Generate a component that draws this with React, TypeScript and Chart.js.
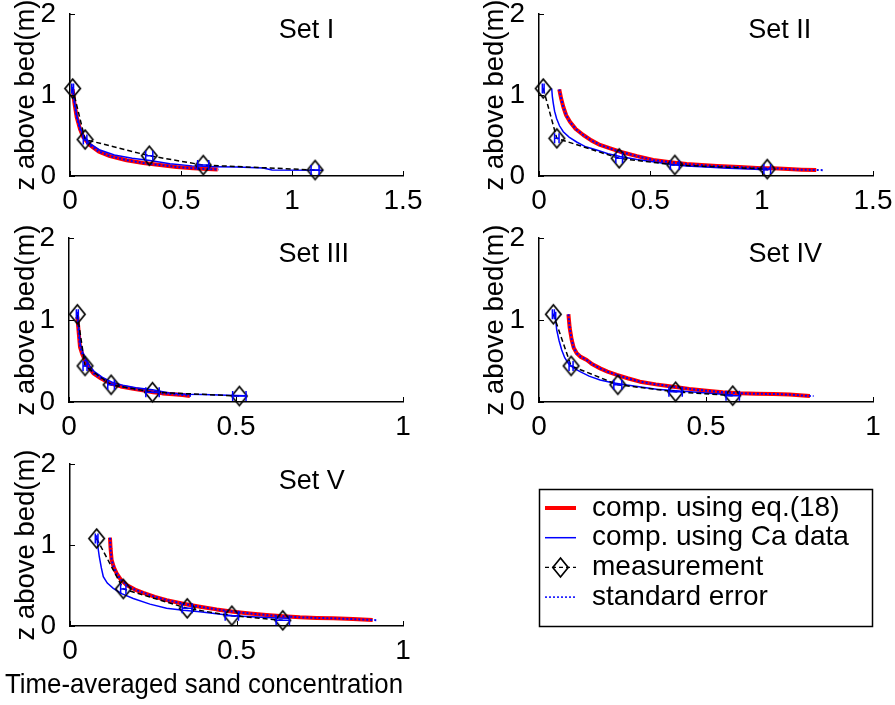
import React, { useEffect, useRef } from 'react';
import { Chart, registerables } from 'chart.js';

Chart.register(...registerables);

const FONT = '"Liberation Sans", Arial, Helvetica, sans-serif';

// ---------- tick values / labels ----------
const X_TICKS_WIDE = [0, 0.5, 1, 1.5];
const X_TICK_LABELS_WIDE = ['0', '0.5', '1', '1.5'];
const X_TICKS_NARROW = [0, 0.5, 1];
const X_TICK_LABELS_NARROW = ['0', '0.5', '1'];
const Y_TICKS = [0, 1, 2];
const Y_TICK_LABELS = ['0', '1', '2'];

const SET_NAMES = ['Set I', 'Set II', 'Set III', 'Set IV', 'Set V'];
const LEGEND_LABELS = ['comp. using eq.(18)', 'comp. using Ca data', 'measurement', 'standard error'];
const Y_TITLE = 'z above bed(m)';
const X_TITLE = 'Time-averaged sand concentration';

// ---------- Set I ----------
const S1_EQ_X = [0.012, 0.02, 0.03, 0.045, 0.06, 0.09, 0.13, 0.18, 0.255, 0.33, 0.405, 0.48, 0.555, 0.62, 0.665];
const S1_EQ_Y = [1.07, 0.9, 0.73, 0.58, 0.48, 0.38, 0.3, 0.245, 0.195, 0.16, 0.135, 0.11, 0.095, 0.085, 0.08];
const S1_SE_X = [0.012, 0.02, 0.03, 0.045, 0.06, 0.09, 0.13, 0.18, 0.255, 0.33, 0.405, 0.48, 0.555, 0.62, 0.67];
const S1_SE_Y = [1.07, 0.9, 0.73, 0.58, 0.48, 0.38, 0.3, 0.245, 0.195, 0.16, 0.135, 0.11, 0.095, 0.085, 0.08];
const S1_CA_X = [0.012, 0.02, 0.03, 0.045, 0.06, 0.09, 0.135, 0.2, 0.28, 0.36, 0.45, 0.55, 0.65, 0.75, 0.87, 0.91, 1.14];
const S1_CA_Y = [1.1, 0.92, 0.75, 0.6, 0.5, 0.4, 0.32, 0.26, 0.22, 0.19, 0.15, 0.125, 0.115, 0.11, 0.1, 0.075, 0.07];
const S1_MEAS_X = [0.012, 0.068, 0.357, 0.6, 1.104];
const S1_MEAS_Y = [1.08, 0.45, 0.25, 0.135, 0.074];
const S1_MEAS_ERR = [0.004, 0.008, 0.016, 0.025, 0.018];

// ---------- Set II ----------
const S2_EQ_X = [0.091, 0.1, 0.109, 0.122, 0.139, 0.165, 0.199, 0.235, 0.274, 0.32, 0.364, 0.44, 0.513, 0.59, 0.663, 0.73, 0.8, 0.9, 1.0, 1.05, 1.12, 1.18, 1.245];
const S2_EQ_Y = [1.07, 0.95, 0.855, 0.75, 0.67, 0.58, 0.506, 0.44, 0.383, 0.34, 0.3, 0.245, 0.198, 0.17, 0.148, 0.135, 0.123, 0.11, 0.097, 0.095, 0.085, 0.078, 0.074];
const S2_SE_X = [0.091, 0.1, 0.109, 0.122, 0.139, 0.165, 0.199, 0.235, 0.274, 0.32, 0.364, 0.44, 0.513, 0.59, 0.663, 0.73, 0.8, 0.9, 1.0, 1.05, 1.12, 1.18, 1.245, 1.275];
const S2_SE_Y = [1.07, 0.95, 0.855, 0.75, 0.67, 0.58, 0.506, 0.44, 0.383, 0.34, 0.3, 0.245, 0.198, 0.17, 0.148, 0.135, 0.123, 0.11, 0.097, 0.095, 0.085, 0.078, 0.074, 0.072];
const S2_CA_X = [0.057, 0.06, 0.064, 0.07, 0.079, 0.092, 0.109, 0.135, 0.169, 0.21, 0.259, 0.31, 0.364, 0.44, 0.513, 0.59, 0.663, 0.75, 0.85, 0.95, 1.03];
const S2_CA_Y = [1.08, 0.98, 0.9, 0.8, 0.71, 0.62, 0.547, 0.48, 0.42, 0.36, 0.32, 0.275, 0.24, 0.205, 0.177, 0.145, 0.123, 0.11, 0.097, 0.085, 0.074];
const S2_MEAS_X = [0.019, 0.08, 0.36, 0.61, 1.025];
const S2_MEAS_Y = [1.08, 0.465, 0.218, 0.136, 0.085];
const S2_MEAS_ERR = [0.004, 0.01, 0.015, 0.02, 0.015];

// ---------- Set III ----------
const S3_EQ_X = [0.025, 0.029, 0.033, 0.04, 0.048, 0.06, 0.073, 0.095, 0.123, 0.155, 0.193, 0.225, 0.252, 0.28, 0.312, 0.34, 0.362];
const S3_EQ_Y = [1.04, 0.85, 0.67, 0.58, 0.51, 0.42, 0.35, 0.29, 0.228, 0.19, 0.16, 0.14, 0.12, 0.105, 0.095, 0.085, 0.073];
const S3_SE_X = [0.025, 0.029, 0.033, 0.04, 0.048, 0.06, 0.073, 0.095, 0.123, 0.155, 0.193, 0.225, 0.252, 0.28, 0.312, 0.34, 0.365];
const S3_SE_Y = [1.04, 0.85, 0.67, 0.58, 0.51, 0.42, 0.35, 0.29, 0.228, 0.19, 0.16, 0.14, 0.12, 0.105, 0.095, 0.085, 0.073];
const S3_CA_X = [0.025, 0.03, 0.034, 0.042, 0.05, 0.062, 0.076, 0.1, 0.13, 0.165, 0.2, 0.25, 0.3, 0.35, 0.4, 0.45, 0.527];
const S3_CA_Y = [1.1, 0.88, 0.7, 0.6, 0.53, 0.44, 0.37, 0.3, 0.24, 0.2, 0.175, 0.15, 0.11, 0.095, 0.09, 0.085, 0.075];
const S3_MEAS_X = [0.025, 0.048, 0.126, 0.25, 0.51];
const S3_MEAS_Y = [1.07, 0.44, 0.21, 0.12, 0.073];
const S3_MEAS_ERR = [0.003, 0.006, 0.01, 0.02, 0.02];

// ---------- Set IV ----------
const S4_EQ_X = [0.088, 0.092, 0.098, 0.104, 0.113, 0.125, 0.143, 0.16, 0.183, 0.205, 0.233, 0.265, 0.302, 0.35, 0.402, 0.45, 0.502, 0.55, 0.602, 0.65, 0.702, 0.75, 0.811];
const S4_EQ_Y = [1.07, 0.9, 0.756, 0.66, 0.594, 0.55, 0.512, 0.46, 0.41, 0.37, 0.33, 0.29, 0.248, 0.215, 0.187, 0.16, 0.138, 0.12, 0.106, 0.1, 0.098, 0.09, 0.073];
const S4_SE_X = [0.088, 0.092, 0.098, 0.104, 0.113, 0.125, 0.143, 0.16, 0.183, 0.205, 0.233, 0.265, 0.302, 0.35, 0.402, 0.45, 0.502, 0.55, 0.602, 0.65, 0.702, 0.75, 0.811, 0.822];
const S4_SE_Y = [1.07, 0.9, 0.756, 0.66, 0.594, 0.55, 0.512, 0.46, 0.41, 0.37, 0.33, 0.29, 0.248, 0.215, 0.187, 0.16, 0.138, 0.12, 0.106, 0.1, 0.098, 0.09, 0.073, 0.072];
const S4_CA_X = [0.048, 0.05, 0.053, 0.06, 0.068, 0.077, 0.088, 0.103, 0.123, 0.15, 0.183, 0.22, 0.263, 0.31, 0.352, 0.4, 0.452, 0.52, 0.582];
const S4_CA_Y = [1.1, 1.0, 0.88, 0.75, 0.634, 0.54, 0.47, 0.415, 0.37, 0.315, 0.268, 0.235, 0.207, 0.18, 0.155, 0.14, 0.126, 0.105, 0.085];
const S4_MEAS_X = [0.043, 0.096, 0.236, 0.409, 0.58];
const S4_MEAS_Y = [1.07, 0.44, 0.21, 0.125, 0.077];
const S4_MEAS_ERR = [0.003, 0.006, 0.012, 0.02, 0.02];

// ---------- Set V ----------
const S5_EQ_X = [0.12, 0.122, 0.125, 0.132, 0.14, 0.153, 0.17, 0.195, 0.22, 0.255, 0.29, 0.34, 0.39, 0.44, 0.49, 0.54, 0.59, 0.64, 0.69, 0.74, 0.79, 0.85, 0.909];
const S5_EQ_Y = [1.09, 0.95, 0.815, 0.72, 0.65, 0.57, 0.506, 0.45, 0.41, 0.36, 0.32, 0.275, 0.238, 0.205, 0.177, 0.155, 0.136, 0.12, 0.107, 0.1, 0.095, 0.085, 0.074];
const S5_SE_X = [0.12, 0.122, 0.125, 0.132, 0.14, 0.153, 0.17, 0.195, 0.22, 0.255, 0.29, 0.34, 0.39, 0.44, 0.49, 0.54, 0.59, 0.64, 0.69, 0.74, 0.79, 0.85, 0.909, 0.92];
const S5_SE_Y = [1.09, 0.95, 0.815, 0.72, 0.65, 0.57, 0.506, 0.45, 0.41, 0.36, 0.32, 0.275, 0.238, 0.205, 0.177, 0.155, 0.136, 0.12, 0.107, 0.1, 0.095, 0.085, 0.074, 0.072];
const S5_CA_X = [0.08, 0.083, 0.088, 0.094, 0.1, 0.112, 0.13, 0.155, 0.19, 0.24, 0.29, 0.34, 0.39, 0.44, 0.49, 0.56, 0.62, 0.66];
const S5_CA_Y = [1.12, 1.0, 0.855, 0.72, 0.61, 0.53, 0.465, 0.4, 0.34, 0.27, 0.22, 0.195, 0.177, 0.15, 0.127, 0.11, 0.1, 0.095];
const S5_MEAS_X = [0.08, 0.16, 0.352, 0.486, 0.639];
const S5_MEAS_Y = [1.08, 0.457, 0.218, 0.127, 0.07];
const S5_MEAS_ERR = [0.004, 0.008, 0.015, 0.02, 0.02];

// ---------- styles ----------
const RED = '#ff0000';
const BLUE = '#0000ff';
const BLACK = '#000000';

let diamondCache: HTMLCanvasElement | null = null;
function diamondImage(): HTMLCanvasElement {
  if (diamondCache) return diamondCache;
  const c = document.createElement('canvas');
  c.width = 19;
  c.height = 23;
  const g = c.getContext('2d')!;
  g.strokeStyle = BLACK;
  g.lineWidth = 1.7;
  g.lineJoin = 'miter';
  g.beginPath();
  g.moveTo(9.5, 2);
  g.lineTo(17.2, 11.5);
  g.lineTo(9.5, 21);
  g.lineTo(1.8, 11.5);
  g.closePath();
  g.stroke();
  diamondCache = c;
  return c;
}

function pts(xs: number[], ys: number[]) {
  return xs.map((x, i) => ({ x, y: ys[i] }));
}

type PanelDef = {
  name: string;
  eqX: number[]; eqY: number[];
  seX: number[]; seY: number[];
  caX: number[]; caY: number[];
  mX: number[]; mY: number[]; mErr: number[];
  xTicks: number[]; xTickLabels: string[];
  nameAt: [number, number];
  left: number; top: number; width: number; height: number;
  areaLeft: number; areaTop: number; areaRight: number; areaBottom: number;
  padL: number;
  xTitle: boolean;
};

const PANELS: PanelDef[] = [
  {
    name: SET_NAMES[0], eqX: S1_EQ_X, eqY: S1_EQ_Y, seX: S1_SE_X, seY: S1_SE_Y, caX: S1_CA_X, caY: S1_CA_Y,
    mX: S1_MEAS_X, mY: S1_MEAS_Y, mErr: S1_MEAS_ERR, xTicks: X_TICKS_WIDE, xTickLabels: X_TICK_LABELS_WIDE,
    nameAt: [0.94, 1.8],
    left: 0, top: 0, width: 469, height: 220, areaLeft: 70, areaTop: 14, areaRight: 403, areaBottom: 176, padL: 0, xTitle: false,
  },
  {
    name: SET_NAMES[1], eqX: S2_EQ_X, eqY: S2_EQ_Y, seX: S2_SE_X, seY: S2_SE_Y, caX: S2_CA_X, caY: S2_CA_Y,
    mX: S2_MEAS_X, mY: S2_MEAS_Y, mErr: S2_MEAS_ERR, xTicks: X_TICKS_WIDE, xTickLabels: X_TICK_LABELS_WIDE,
    nameAt: [0.94, 1.8],
    left: 469, top: 0, width: 426, height: 220, areaLeft: 70, areaTop: 14, areaRight: 404, areaBottom: 176, padL: 0, xTitle: false,
  },
  {
    name: SET_NAMES[2], eqX: S3_EQ_X, eqY: S3_EQ_Y, seX: S3_SE_X, seY: S3_SE_Y, caX: S3_CA_X, caY: S3_CA_Y,
    mX: S3_MEAS_X, mY: S3_MEAS_Y, mErr: S3_MEAS_ERR, xTicks: X_TICKS_NARROW, xTickLabels: X_TICK_LABELS_NARROW,
    nameAt: [0.627, 1.8],
    left: 0, top: 220, width: 469, height: 220, areaLeft: 69, areaTop: 18, areaRight: 403, areaBottom: 182, padL: 0, xTitle: false,
  },
  {
    name: SET_NAMES[3], eqX: S4_EQ_X, eqY: S4_EQ_Y, seX: S4_SE_X, seY: S4_SE_Y, caX: S4_CA_X, caY: S4_CA_Y,
    mX: S4_MEAS_X, mY: S4_MEAS_Y, mErr: S4_MEAS_ERR, xTicks: X_TICKS_NARROW, xTickLabels: X_TICK_LABELS_NARROW,
    nameAt: [0.627, 1.8],
    left: 469, top: 220, width: 426, height: 220, areaLeft: 70, areaTop: 18, areaRight: 404, areaBottom: 182, padL: 0, xTitle: false,
  },
  {
    name: SET_NAMES[4], eqX: S5_EQ_X, eqY: S5_EQ_Y, seX: S5_SE_X, seY: S5_SE_Y, caX: S5_CA_X, caY: S5_CA_Y,
    mX: S5_MEAS_X, mY: S5_MEAS_Y, mErr: S5_MEAS_ERR, xTicks: X_TICKS_NARROW, xTickLabels: X_TICK_LABELS_NARROW,
    nameAt: [0.627, 1.78],
    left: 0, top: 440, width: 469, height: 265, areaLeft: 70, areaTop: 24, areaRight: 403, areaBottom: 186, padL: 5, xTitle: true,
  },
];

const TICK_FONT = { family: FONT, size: 28, lineHeight: 1, weight: 'normal' as const };
const Y_TITLE_FONT = { family: FONT, size: 27.5, lineHeight: 1, weight: 'normal' as const };
const X_TITLE_FONT = { family: FONT, size: 28, lineHeight: 1, weight: 'normal' as const };
const NAME_FONT = `27px ${FONT}`;
const LEGEND_FONT = `28px ${FONT}`;
const Y_TITLE_CENTER = 26;

const innerTicksPlugin = {
  id: 'innerTicks',
  afterDraw(chart: any) {
    const { ctx, chartArea: a, scales } = chart;
    const xs = scales.x;
    const ys = scales.y;
    ctx.save();
    ctx.strokeStyle = BLACK;
    ctx.lineWidth = 1;
    ctx.beginPath();
    xs.ticks.forEach((t: any) => {
      const px = Math.round(xs.getPixelForValue(t.value)) + 0.5;
      ctx.moveTo(px, a.bottom);
      ctx.lineTo(px, a.bottom - 5);
    });
    ys.ticks.forEach((t: any) => {
      const py = Math.round(ys.getPixelForValue(t.value)) + 0.5;
      ctx.moveTo(a.left, py);
      ctx.lineTo(a.left + 5, py);
    });
    ctx.stroke();
    ctx.restore();
  },
};

function makeErrorBarPlugin(p: PanelDef) {
  return {
    id: 'errorBars',
    afterDatasetsDraw(chart: any) {
      const { ctx, scales } = chart;
      const xs = scales.x;
      const ys = scales.y;
      ctx.save();
      ctx.strokeStyle = BLUE;
      ctx.lineWidth = 1.5;
      ctx.beginPath();
      p.mX.forEach((mx, i) => {
        const py = ys.getPixelForValue(p.mY[i]);
        const x1 = xs.getPixelForValue(mx - p.mErr[i]);
        const x2 = xs.getPixelForValue(mx + p.mErr[i]);
        ctx.moveTo(x1, py);
        ctx.lineTo(x2, py);
        ctx.moveTo(x1, py - 5);
        ctx.lineTo(x1, py + 5);
        ctx.moveTo(x2, py - 5);
        ctx.lineTo(x2, py + 5);
      });
      ctx.stroke();
      ctx.restore();
    },
  };
}

function makeNamePlugin(p: PanelDef) {
  return {
    id: 'setName',
    afterDraw(chart: any) {
      const { ctx, scales } = chart;
      ctx.save();
      ctx.fillStyle = BLACK;
      ctx.font = NAME_FONT;
      ctx.textAlign = 'left';
      ctx.textBaseline = 'middle';
      ctx.fillText(p.name, scales.x.getPixelForValue(p.nameAt[0]), scales.y.getPixelForValue(p.nameAt[1]));
      ctx.restore();
    },
  };
}

function Panel({ p }: { p: PanelDef }) {
  const ref = useRef<HTMLCanvasElement>(null);
  useEffect(() => {
    const canvas = ref.current!;
    const xMax = p.xTicks[p.xTicks.length - 1];
    const titleBox = p.xTitle ? 28 + 6 : 0;
    const xScaleHeight = p.height - titleBox - p.areaBottom;
    const yScaleWidth = p.areaLeft - p.padL;
    const yTitlePad = Y_TITLE_CENTER - p.padL - Y_TITLE_FONT.size / 2;
    const chart = new Chart(canvas, {
      type: 'line',
      data: {
        datasets: [
          {
            label: LEGEND_LABELS[2],
            data: pts(p.mX, p.mY),
            borderColor: BLACK,
            borderWidth: 1.5,
            borderDash: [5, 3],
            pointStyle: diamondImage(),
            pointRadius: 8,
            fill: false,
            clip: false,
          },
          {
            label: LEGEND_LABELS[3],
            data: pts(p.seX, p.seY),
            borderColor: BLUE,
            borderWidth: 2,
            borderDash: [2, 2],
            pointRadius: 0,
            fill: false,
            clip: false,
          },
          {
            label: LEGEND_LABELS[1],
            data: pts(p.caX, p.caY),
            borderColor: BLUE,
            borderWidth: 1.5,
            pointRadius: 0,
            fill: false,
            clip: false,
          },
          {
            label: LEGEND_LABELS[0],
            data: pts(p.eqX, p.eqY),
            borderColor: RED,
            borderWidth: 4,
            borderJoinStyle: 'round',
            pointRadius: 0,
            fill: false,
            clip: false,
          },
        ] as any,
      },
      options: {
        animation: false,
        responsive: false,
        maintainAspectRatio: false,
        devicePixelRatio: 1,
        events: [],
        layout: {
          autoPadding: false,
          padding: { left: p.padL, top: p.areaTop, right: p.width - p.areaRight, bottom: 0 },
        },
        plugins: {
          legend: { display: false },
          tooltip: { enabled: false },
          title: p.xTitle
            ? {
                display: true,
                text: X_TITLE,
                position: 'bottom',
                align: 'start',
                color: BLACK,
                font: X_TITLE_FONT,
                padding: { top: 0, bottom: 6 },
                fullSize: true,
              }
            : { display: false },
        },
        scales: {
          x: {
            type: 'linear',
            position: 'bottom',
            min: 0,
            max: xMax,
            grid: { display: false, drawTicks: false },
            border: { display: true, color: BLACK, width: 1.5 },
            ticks: {
              color: BLACK,
              font: TICK_FONT,
              padding: 11,
              autoSkip: false,
              maxRotation: 0,
              callback: (_v: any, i: number) => p.xTickLabels[i],
            },
            afterBuildTicks: (s: any) => {
              s.ticks = p.xTicks.map((v) => ({ value: v }));
            },
            afterFit: (s: any) => {
              s.height = xScaleHeight;
              s.paddingLeft = 0;
              s.paddingRight = 0;
              s.paddingTop = 0;
              s.paddingBottom = 0;
            },
          },
          y: {
            type: 'linear',
            position: 'left',
            min: 0,
            max: 2,
            grid: { display: false, drawTicks: false },
            border: { display: true, color: BLACK, width: 1.5 },
            ticks: {
              color: BLACK,
              font: TICK_FONT,
              padding: 14,
              autoSkip: false,
              callback: (_v: any, i: number) => Y_TICK_LABELS[i],
            },
            afterBuildTicks: (s: any) => {
              s.ticks = Y_TICKS.map((v) => ({ value: v }));
            },
            title: {
              display: true,
              text: Y_TITLE,
              color: BLACK,
              font: Y_TITLE_FONT,
              padding: { top: yTitlePad, bottom: 0 },
            },
            afterFit: (s: any) => {
              s.width = yScaleWidth;
              s.paddingLeft = 0;
              s.paddingRight = 0;
              s.paddingTop = 0;
              s.paddingBottom = 0;
            },
          },
        },
      } as any,
      plugins: [innerTicksPlugin, makeErrorBarPlugin(p), makeNamePlugin(p)],
    });
    return () => chart.destroy();
  }, [p]);
  return (
    <canvas
      ref={ref}
      width={p.width}
      height={p.height}
      style={{ position: 'absolute', left: p.left, top: p.top, width: p.width, height: p.height }}
    />
  );
}

// legend canvas placement
const LEGEND_CANVAS = { left: 520, top: 470, width: 375, height: 170 };

function LegendPanel() {
  const ref = useRef<HTMLCanvasElement>(null);
  useEffect(() => {
    const canvas = ref.current!;
    const legendPlugin = {
      id: 'figureLegend',
      afterDraw(chart: any) {
        const { ctx } = chart;
        const ds = chart.data.datasets;
        ctx.save();
        ctx.strokeStyle = BLACK;
        ctx.lineWidth = 1.5;
        ctx.strokeRect(19.5, 19.5, 333, 137);
        const rowY0 = 38;
        const rowStep = 29.7;
        const sx1 = 25;
        const sx2 = 56;
        ds.forEach((d: any, i: number) => {
          const y = rowY0 + i * rowStep;
          ctx.save();
          ctx.strokeStyle = d.borderColor;
          ctx.lineWidth = d.borderWidth;
          ctx.setLineDash(d.borderDash || []);
          ctx.beginPath();
          ctx.moveTo(sx1, y);
          ctx.lineTo(sx2, y);
          ctx.stroke();
          ctx.restore();
          if (d.pointStyle && typeof d.pointStyle === 'object') {
            const img = d.pointStyle as HTMLCanvasElement;
            ctx.drawImage(img, Math.round((sx1 + sx2) / 2 - img.width / 2), Math.round(y - img.height / 2));
          }
          ctx.fillStyle = BLACK;
          ctx.font = LEGEND_FONT;
          ctx.textAlign = 'left';
          ctx.textBaseline = 'middle';
          ctx.fillText(d.label, 72, y);
        });
        ctx.restore();
      },
    };
    const chart = new Chart(canvas, {
      type: 'line',
      data: {
        datasets: [
          { label: LEGEND_LABELS[0], data: [], borderColor: RED, borderWidth: 4 },
          { label: LEGEND_LABELS[1], data: [], borderColor: BLUE, borderWidth: 1.5 },
          { label: LEGEND_LABELS[2], data: [], borderColor: BLACK, borderWidth: 1.3, borderDash: [4, 3], pointStyle: diamondImage() },
          { label: LEGEND_LABELS[3], data: [], borderColor: BLUE, borderWidth: 1.5, borderDash: [2, 2] },
        ] as any,
      },
      options: {
        animation: false,
        responsive: false,
        maintainAspectRatio: false,
        devicePixelRatio: 1,
        events: [],
        plugins: { legend: { display: false }, tooltip: { enabled: false } },
        scales: { x: { display: false }, y: { display: false } },
      } as any,
      plugins: [legendPlugin],
    });
    return () => chart.destroy();
  }, []);
  return (
    <canvas
      ref={ref}
      width={LEGEND_CANVAS.width}
      height={LEGEND_CANVAS.height}
      style={{
        position: 'absolute',
        left: LEGEND_CANVAS.left,
        top: LEGEND_CANVAS.top,
        width: LEGEND_CANVAS.width,
        height: LEGEND_CANVAS.height,
      }}
    />
  );
}

export default function App() {
  return (
    <div
      style={{
        position: 'absolute',
        left: 0,
        top: 0,
        width: 895,
        height: 705,
        background: '#ffffff',
        overflow: 'hidden',
      }}
    >
      {PANELS.map((p) => (
        <Panel key={p.name} p={p} />
      ))}
      <LegendPanel />
    </div>
  );
}
